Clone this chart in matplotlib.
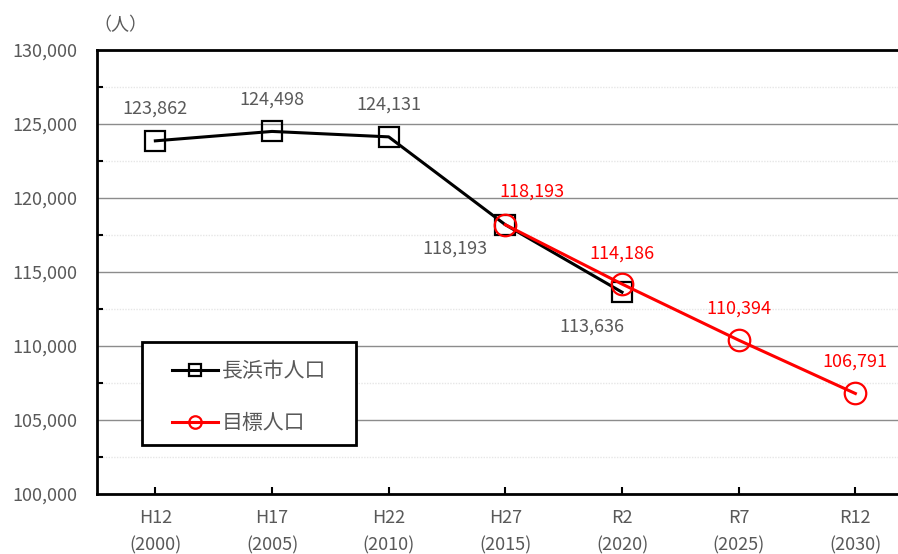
import matplotlib
matplotlib.use("Agg")
import matplotlib.pyplot as plt
from matplotlib.patches import Rectangle
from matplotlib.ticker import MultipleLocator, FuncFormatter

plt.rcParams['font.family'] = ['Noto Sans CJK JP', 'DejaVu Sans']

categories = ["H12\n(2000)", "H17\n(2005)", "H22\n(2010)", "H27\n(2015)",
              "R2\n(2020)", "R7\n(2025)", "R12\n(2030)"]
city_pop = [123862, 124498, 124131, 118193, 113636]
target_pop = [118193, 114186, 110394, 106791]
target_start = 3

GRAY = "#595959"

fig = plt.figure(figsize=(8.98, 5.54), dpi=100)
ax = fig.add_axes([97 / 898, 60 / 554, 816.7 / 898, 444 / 554])

x_city = list(range(len(city_pop)))
x_target = list(range(target_start, target_start + len(target_pop)))

ax.plot(x_city, city_pop, color="black", lw=2.2, marker="s", ms=14,
        mfc="none", mec="black", mew=1.6, label="長浜市人口", zorder=3)
ax.plot(x_target, target_pop, color="red", lw=2.2, marker="o", ms=15.5,
        mfc="none", mec="red", mew=1.6, label="目標人口", zorder=4)

# data labels (offsets in points)
city_offsets = [(0, 23), (0, 23), (0, 23), (-36, -17), (-22, -25)]
for xi, v, off in zip(x_city, city_pop, city_offsets):
    ax.annotate(f"{v:,}", (xi, v), xytext=off, textcoords="offset points",
                ha="center", va="center", color=GRAY, fontsize=13)
target_offsets = [(19, 24), (0, 22), (0, 23), (0, 23)]
for xi, v, off in zip(x_target, target_pop, target_offsets):
    ax.annotate(f"{v:,}", (xi, v), xytext=off, textcoords="offset points",
                ha="center", va="center", color="red", fontsize=13)

ax.set_xlim(-0.5, len(categories) - 0.5)
ax.set_ylim(100000, 130000)
ax.set_xticks(range(len(categories)))
ax.set_xticklabels(categories, color=GRAY, fontsize=13, linespacing=1.6)
ax.yaxis.set_major_locator(MultipleLocator(5000))
ax.yaxis.set_minor_locator(MultipleLocator(2500))
ax.yaxis.set_major_formatter(FuncFormatter(lambda v, p: f"{int(v):,}"))
ax.tick_params(axis="y", which="major", length=0, pad=14, labelsize=13,
               labelcolor=GRAY)
ax.tick_params(axis="y", which="minor", direction="in", length=4, width=1.5,
               color="black")
ax.tick_params(axis="x", direction="in", length=5, width=1.5, color="black",
               pad=11)

ax.grid(axis="y", which="major", color="#8c8c8c", lw=1.0)
ax.grid(axis="y", which="minor", color="#e6e6e6", lw=1.0, ls=(0, (1, 1)))
ax.set_axisbelow(True)

for s in ["left", "bottom", "top"]:
    ax.spines[s].set_linewidth(2)
    ax.spines[s].set_color("black")
ax.spines["right"].set_visible(False)

fig.text(120 / 898, 1 - 25 / 554, "（人）", color=GRAY, fontsize=13,
         ha="center", va="center")

# legend box drawn separately so the padding can differ per side
box = Rectangle((142 / 898, 1 - 445 / 554), 214 / 898, 103 / 554,
                transform=fig.transFigure, facecolor="white",
                edgecolor="black", lw=2, zorder=5)
ax.add_patch(box)
box.set_clip_on(False)

leg = ax.legend(loc="upper left", bbox_to_anchor=(172 / 898, 1 - 360 / 554),
                bbox_transform=fig.transFigure, borderaxespad=0,
                fontsize=15, handlelength=2.2, handletextpad=0.2,
                labelspacing=1.45, borderpad=0, frameon=False)
leg.set_zorder(6)
for t in leg.get_texts():
    t.set_color(GRAY)
for h in leg.legend_handles:
    h.set_markersize(9)
    h.set_markeredgewidth(1.6)

fig.savefig("out.png", dpi=100)
